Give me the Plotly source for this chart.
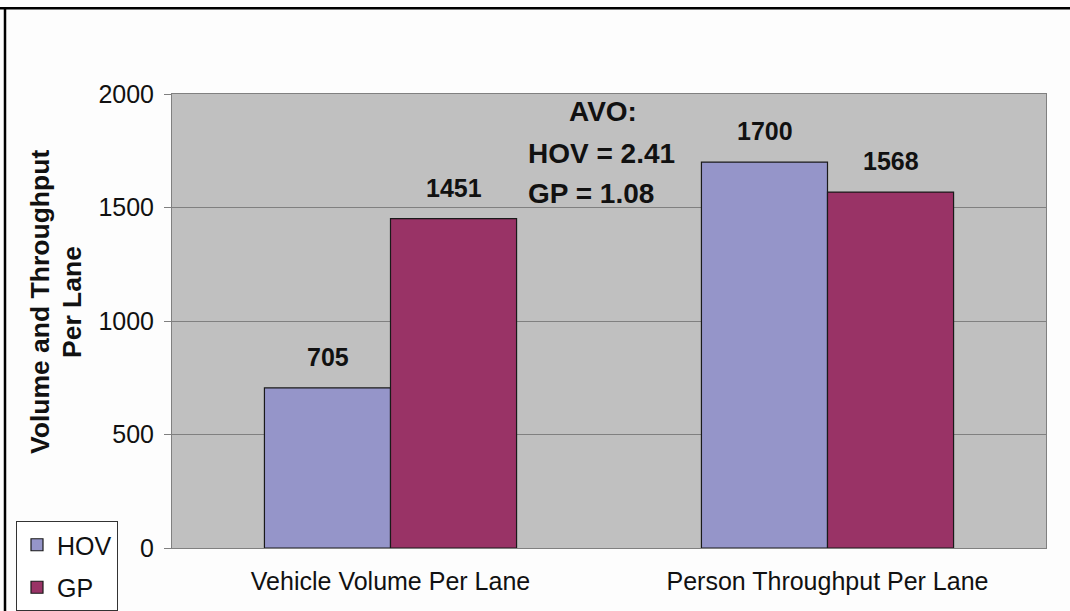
import plotly.graph_objects as go

categories = ["Vehicle Volume Per Lane", "Person Throughput Per Lane"]
hov = [705, 1700]
gp = [1451, 1568]
avo_lines = ["AVO:", "HOV = 2.41", "GP = 1.08"]
y_title = ["Volume and Throughput", "Per Lane"]
y_ticks = [0, 500, 1000, 1500, 2000]

FONT = "Arial, Liberation Sans, sans-serif"
W, H = 1070, 611
L, R, T, B = 172, 24, 94, 63
PW, PH = W - L - R, H - T - B


def px_x(x):
    return (x - L) / PW


def px_y(y):
    return (H - B - y) / PH


fig = go.Figure()
fig.add_trace(go.Bar(x=categories, y=hov, name="HOV", legendgroup="hov",
                     marker=dict(color="#9595C9", line=dict(color="#1a1a1a", width=1.2))))
fig.add_trace(go.Bar(x=categories, y=gp, name="GP", legendgroup="gp",
                     marker=dict(color="#993366", line=dict(color="#1a1a1a", width=1.2))))

# value labels above each bar
for i, cat in enumerate(categories):
    for vals, dx in ((hov, -63), (gp, 63)):
        fig.add_annotation(x=cat, y=vals[i], text=f"<b>{vals[i]}</b>", showarrow=False,
                           xshift=dx, yshift=31, yanchor="middle",
                           font=dict(family=FONT, size=25, color="#111"))

# AVO note
fig.add_annotation(xref="paper", yref="paper", x=px_x(603), y=px_y(112), text=f"<b>{avo_lines[0]}</b>",
                   showarrow=False, xanchor="center", yanchor="middle",
                   font=dict(family=FONT, size=28, color="#111"))
for line, ypx in zip(avo_lines[1:], (153, 193)):
    fig.add_annotation(xref="paper", yref="paper", x=px_x(526), y=px_y(ypx), text=f"<b>{line}</b>",
                       showarrow=False, xanchor="left", yanchor="middle",
                       font=dict(family=FONT, size=28, color="#111"))

# y axis title, two rotated lines
for line, xpx in zip(y_title, (40, 72)):
    fig.add_annotation(xref="paper", yref="paper", x=px_x(xpx), y=px_y(302),
                       text=f"<b>{line}</b>", textangle=-90,
                       showarrow=False, xanchor="center", yanchor="middle",
                       font=dict(family=FONT, size=26.5, color="#111"))

# outer frame (top and left edges)
fig.add_shape(type="line", xref="paper", yref="paper", x0=px_x(0), x1=px_x(W), y0=px_y(8.3), y1=px_y(8.3),
              line=dict(color="black", width=2.5))
fig.add_shape(type="line", xref="paper", yref="paper", x0=px_x(5), x1=px_x(5), y0=px_y(7), y1=px_y(H + 5),
              line=dict(color="black", width=2.5))

fig.update_layout(
    width=W, height=H,
    margin=dict(l=L, r=R, t=T, b=B),
    barmode="group", bargap=0.423, bargroupgap=0,
    paper_bgcolor="#fdfdfd", plot_bgcolor="#c0c0c0",
    font=dict(family=FONT, size=25, color="#111"),
    legend=dict(xref="container", yref="container", x=16 / W, y=1 - 521 / H,
                xanchor="left", yanchor="top",
                bgcolor="white", bordercolor="#333", borderwidth=1, traceorder="grouped",
                font=dict(family=FONT, size=25, color="#111"), tracegroupgap=7),
    xaxis=dict(showline=True, linecolor="#808080", mirror=True, ticks="", automargin=False,
               tickfont=dict(size=25), ticklabelstandoff=11),
    yaxis=dict(range=[0, 2000], tickvals=y_ticks, showgrid=True, gridcolor="#808080", gridwidth=1,
               showline=True, linecolor="#808080", mirror=True, ticks="outside", ticklen=7,
               automargin=False, tickcolor="#808080", tickfont=dict(size=25), ticklabelstandoff=5,
               zeroline=False),
)

fig.write_html("out.html", config={"displayModeBar": False},
               post_script="document.body.style.margin='0'; document.body.style.overflow='hidden';")
